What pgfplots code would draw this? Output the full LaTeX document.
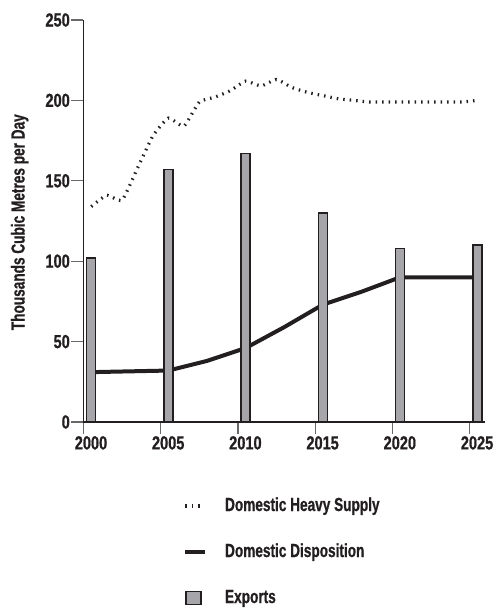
\documentclass[border=0pt]{standalone}
\usepackage{pgfplots}
\pgfplotsset{compat=1.18}
\usepackage{fontspec}
\setmainfont{Liberation Sans}[FakeStretch=0.72, BoldFeatures={FakeBold=0.8}]
\newfontfamily\numfont{Liberation Sans}[FakeStretch=0.77, BoldFeatures={FakeBold=0.8}]
\definecolor{barfill}{RGB}{166,166,170}
\definecolor{tickgray}{RGB}{105,105,105}
\definecolor{inkblack}{RGB}{35,31,32}
\newcommand{\lblfont}{\fontsize{19}{22}\selectfont\bfseries}
\newcommand{\tckfont}{\numfont\fontsize{19}{22}\selectfont\bfseries}

\begin{document}
\begin{tikzpicture}
\begin{axis}[
  at={(0,0)}, anchor=south west,
  scale only axis, width=401.5bp, height=402bp,
  xmin=2000, xmax=2026, ymin=0, ymax=250,
  axis x line=bottom, axis y line=left,
  axis line style={-, line width=1.8bp, inkblack},
  xtick={2000,2005,...,2025},
  xticklabels={2000,2005,2010,2015,2020,2025},
  ytick={0,50,...,250},
  tick align=outside, major tick length=12bp,
  tick style={tickgray, line width=1.2bp},
  /pgf/number format/assume math mode=true,
  ticklabel style={font=\tckfont, text=inkblack},
  xticklabel style={xshift=7.5bp, inner ysep=2bp},
  yticklabel style={inner xsep=1.5bp},
  ylabel={Thousands Cubic Metres per Day},
  ylabel style={font=\lblfont, text=inkblack, at={(axis description cs:-0.159,0.497)}, anchor=center},
  legend style={at={(axis description cs:0.248,-0.1866)}, anchor=north west,
    draw=none, fill=none, inner sep=0pt, outer sep=0pt, row sep=28bp,
    nodes={inner sep=0pt, text height=14bp, text depth=4bp, font=\lblfont, text=inkblack}},
  legend cell align=left,
]
\addlegendimage{legend image code/.code={
  \draw[line width=3.2bp, inkblack, dash pattern=on 1.5bp off 5bp] (0bp,0bp) -- (18bp,0bp);
  \path[draw=none, fill=none] (0bp,0bp) -- (40bp,0bp);}}
\addlegendentry{Domestic Heavy Supply}
\addlegendimage{legend image code/.code={
  \draw[line width=4bp, inkblack] (0bp,0bp) -- (20bp,0bp);
  \path[draw=none, fill=none] (0bp,0bp) -- (40bp,0bp);}}
\addlegendentry{Domestic Disposition}
\addlegendimage{legend image code/.code={
  \draw[fill=barfill, draw=inkblack, line width=1.5bp] (0.75bp,-6.5bp) rectangle (15.75bp,6.5bp);
  \path[draw=none, fill=none] (0bp,0bp) -- (40bp,0bp);}}
\addlegendentry{Exports}

% Domestic Disposition
\addplot[line width=4bp, inkblack, line join=round, forget plot] coordinates {
  (2000.5,31) (2005.5,32) (2008,38) (2010.5,46) (2013,59)
  (2015.5,73) (2018,81) (2020.5,90) (2025.5,90)
};
% Domestic Heavy Supply
\addplot[line width=3.2bp, inkblack, dash pattern=on 1.5bp off 5bp, smooth, tension=0.3, forget plot] coordinates {
  (2000.5,134) (2001.5,141) (2002.5,138) (2003.5,158) (2004.5,178)
  (2005.5,189) (2006.5,184) (2007.5,199) (2008.5,202) (2009.5,206)
  (2010.5,212) (2011.5,209) (2012.5,213) (2013.5,208) (2014.5,205)
  (2015.5,203) (2016.5,201) (2017.5,200) (2018.5,199) (2019.5,199)
  (2020.5,199) (2021.5,199) (2022.5,199) (2023.5,199) (2024.5,199)
  (2025.5,200)
};
% Exports
\addplot[ybar, bar width=0.58, bar shift=0pt, fill=barfill, draw=inkblack, line width=1.5bp, forget plot] coordinates {
  (2000.5,102) (2005.5,157) (2010.5,167) (2015.5,130) (2020.5,108) (2025.5,110)
};
\end{axis}
\pgfresetboundingbox
\path (-83.5bp,-186bp) rectangle (409.5bp,422bp);
\end{tikzpicture}
\end{document}
